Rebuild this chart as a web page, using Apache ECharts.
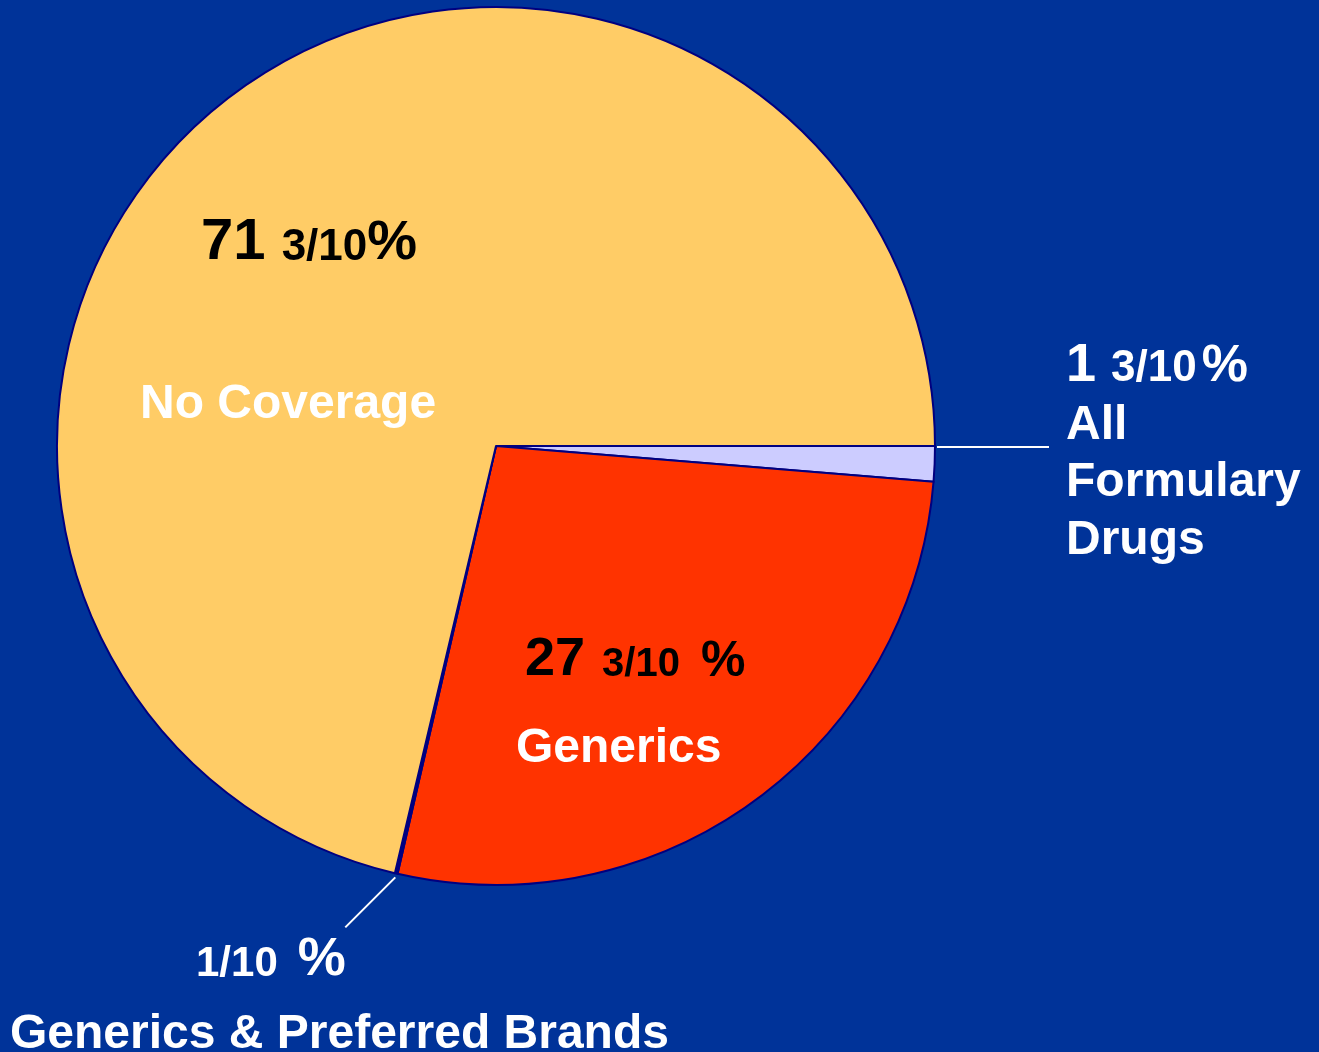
<!DOCTYPE html>
<html>
<head>
<meta charset="utf-8">
<title>Coverage pie</title>
<script src="https://cdn.jsdelivr.net/npm/echarts@6/dist/echarts.min.js"></script>
<style>
  html, body { margin: 0; padding: 0; background: #003399; }
  #chart { width: 1319px; height: 1052px; }
</style>
</head>
<body>
<div id="chart"></div>
<script>
// slices, clockwise from 3 o'clock
const categories = ['All Formulary Drugs', 'Generics', 'Generics & Preferred Brands', 'No Coverage'];
const shares = [1.3, 27.3, 0.1, 71.3];
const palette = ['#ccccff', '#ff3300', '#000080', '#ffcc66'];

const FONT = '"Liberation Sans", Arial, sans-serif';
const CX = 496, CY = 446, R = 439;

// label placement / typography per slice (layout only)
const labelCfg = [
    { x: 1066, y: 344, whole: 54, frac: 44, pct: 52, wholePad: 0, fracPad: 0, pctPad: 5, padB: 5, fracLift: 2, numColor: '#fff', gap: 56, step: 58, wrap: true },
    { x: 516, y: 633, whole: 54, frac: 40, pct: 50, wholePad: 9, fracPad: 2, pctPad: 21, padB: 0, fracLift: 2, numColor: '#000', gap: 124, step: 58, wrap: false },
    { x: 10, y: 933, whole: 54, frac: 42, pct: 54, wholePad: 0, fracPad: 186, pctPad: 20, padB: 0, fracLift: 2, numColor: '#fff', gap: 96, step: 58, wrap: false },
    { x: 140, y: 214, whole: 58, frac: 44, pct: 56, wholePad: 61, fracPad: 0, pctPad: 0, padB: 0, fracLift: 2, numColor: '#000', gap: 266, step: 58, wrap: false }
];

const rich = {};
labelCfg.forEach(function (c, i) {
    const base = { fontFamily: FONT, fontWeight: 'bold', verticalAlign: 'bottom' };
    rich['w' + i] = Object.assign({}, base, { fontSize: c.whole, lineHeight: c.whole, color: c.numColor, padding: [0, 0, c.padB, c.wholePad] });
    rich['f' + i] = Object.assign({}, base, { fontSize: c.frac, lineHeight: c.frac, color: c.numColor, padding: [0, 0, c.padB + c.fracLift, c.fracPad] });
    rich['p' + i] = Object.assign({}, base, { fontSize: c.pct, lineHeight: c.pct, color: c.numColor, padding: [0, 0, c.padB, c.pctPad] });
    rich['n' + i] = { fontFamily: FONT, fontWeight: 'bold', fontSize: 48, lineHeight: c.gap, color: '#fff' };
    rich['m' + i] = { fontFamily: FONT, fontWeight: 'bold', fontSize: 48, lineHeight: c.step, color: '#fff' };
});

function labelText(params) {
    const i = params.dataIndex;
    const v = shares[i];
    const whole = Math.floor(v + 1e-9);
    const tenths = Math.round((v - whole) * 10);
    let line1 = (whole ? '{w' + i + '|' + whole + ' }' : '') + '{f' + i + '|' + tenths + '/10}' + '{p' + i + '|%}';
    const words = labelCfg[i].wrap ? categories[i].split(' ') : [categories[i]];
    let rest = words.map(function (w, k) { return '{' + (k === 0 ? 'n' : 'm') + i + '|' + w + '}'; }).join('\n');
    return line1 + '\n' + rest;
}

// angle (radians, clockwise from 3 o'clock) at fraction p of the pie
function angleAt(p) { return p * 2 * Math.PI; }
function cumBefore(i) {
    let s = 0;
    for (let k = 0; k < i; k++) s += shares[k];
    return s / 100;
}

const chart = echarts.init(document.getElementById('chart'));
chart.setOption({
    backgroundColor: '#003399',
    animation: false,
    series: [{
        type: 'pie',
        center: [CX, CY],
        radius: R,
        startAngle: 0,
        clockwise: true,
        avoidLabelOverlap: false,
        itemStyle: { borderColor: '#000080', borderWidth: 2 },
        label: {
            show: true,
            position: 'outside',
            width: 720,
            formatter: labelText,
            rich: rich
        },
        labelLine: { show: true, lineStyle: { color: '#ffffff', width: 2 } },
        labelLayout: function (params) {
            const i = params.dataIndex;
            const c = labelCfg[i];
            const out = { x: c.x, y: c.y, align: 'left', verticalAlign: 'top' };
            if (i === 0) {
                // horizontal leader from the top edge of the sliver
                const a = angleAt(cumBefore(i));
                const px = CX + (R + 2) * Math.cos(a), py = CY + (R + 2) * Math.sin(a) + 1;
                out.labelLinePoints = [[px, py], [px + 112, py]];
            } else if (i === 2) {
                const a = angleAt(cumBefore(i) + shares[i] / 200);
                const px = CX + (R + 4) * Math.cos(a), py = CY + (R + 4) * Math.sin(a);
                out.labelLinePoints = [[px, py], [px - 50, py + 50]];
            }
            return out;
        },
        data: categories.map(function (name, i) {
            return {
                name: name,
                value: shares[i],
                itemStyle: { color: palette[i] },
                labelLine: { show: i === 0 || i === 2 }
            };
        })
    }]
});
</script>
</body>
</html>
